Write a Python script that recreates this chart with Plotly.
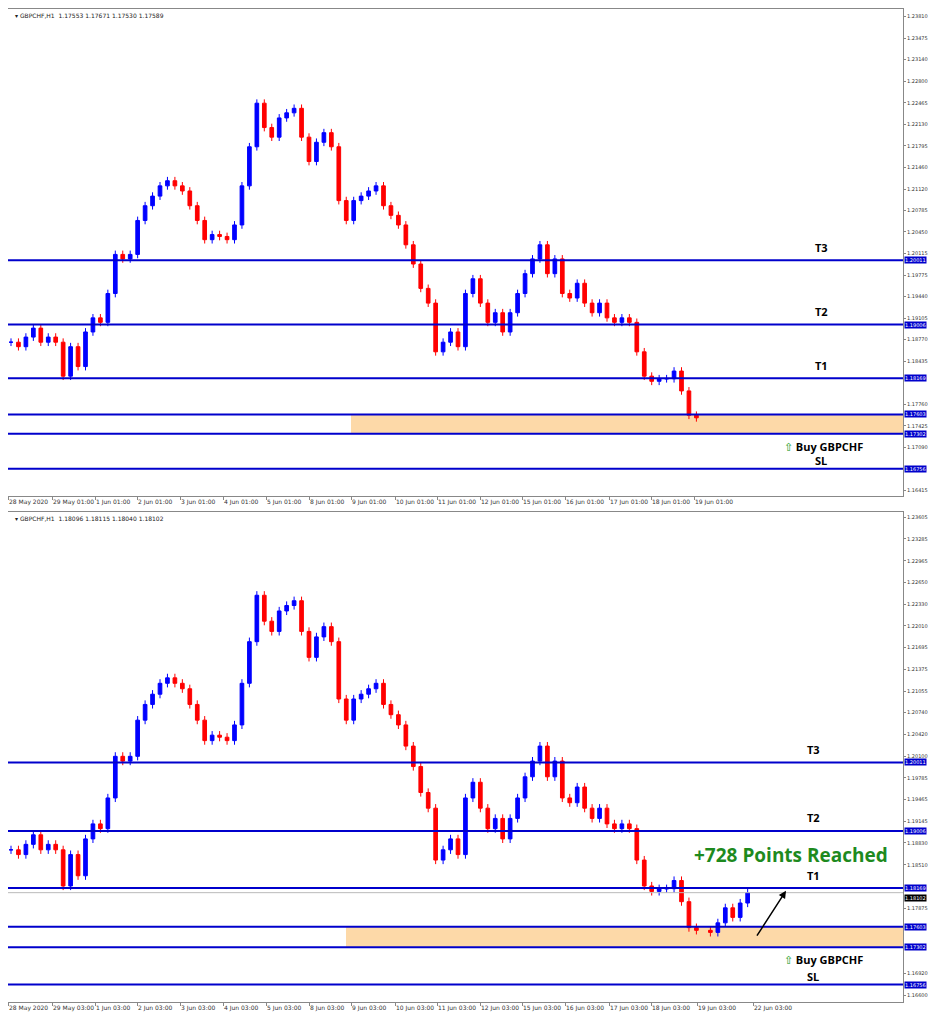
import plotly.graph_objects as go

# ---------------- DATA ----------------
closes = [1.1873, 1.1866, 1.1881, 1.1895, 1.1873, 1.1881, 1.1873, 1.1820, 1.1866, 1.1835,
          1.1889, 1.1911, 1.1904, 1.1949, 1.2010, 1.2003, 1.2010, 1.2063, 1.2086, 1.2101,
          1.2117, 1.2125, 1.2117, 1.2109, 1.2086, 1.2063, 1.2033, 1.2041, 1.2038, 1.2033,
          1.2056, 1.2117, 1.2178, 1.2246, 1.2208, 1.2193, 1.2223, 1.2231, 1.2238, 1.2193,
          1.2155, 1.2185, 1.2200, 1.2178, 1.2094, 1.2063, 1.2094, 1.2101, 1.2109, 1.2117,
          1.2086, 1.2071, 1.2056, 1.2025, 1.1995, 1.1957, 1.1934, 1.1858, 1.1873, 1.1889,
          1.1866, 1.1949, 1.1972, 1.1934, 1.1904, 1.1919, 1.1889, 1.1919, 1.1949, 1.1980,
          1.2003, 1.2025, 1.1980, 1.2003, 1.1949, 1.1942, 1.1965, 1.1934, 1.1919, 1.1934,
          1.1911, 1.1904, 1.1911, 1.1904, 1.1858, 1.1820, 1.1812, 1.1816, 1.1816, 1.1828,
          1.1797, 1.1759, 1.1755]
extra_closes = [1.1752, 1.1766, 1.1788, 1.1774, 1.1795, 1.1810]

levels = [1.20011, 1.19006, 1.18169, 1.17603, 1.17302, 1.16756]
level_names = ["T3", "T2", "T1", "", "", "SL"]

top_ticks = [1.23810, 1.23475, 1.23140, 1.22800, 1.22465, 1.22130, 1.21795, 1.21460,
             1.21120, 1.20785, 1.20450, 1.20115, 1.19775, 1.19440, 1.19105, 1.18770,
             1.18435, 1.17760, 1.17425, 1.17090, 1.16415]
bot_ticks = [1.23605, 1.23285, 1.22965, 1.22650, 1.22330, 1.22010, 1.21695, 1.21375,
             1.21055, 1.20740, 1.20420, 1.20100, 1.19785, 1.19465, 1.19145, 1.18830,
             1.18510, 1.17875, 1.16920, 1.16600]
top_dates = ["28 May 2020", "29 May 01:00", "1 Jun 01:00", "2 Jun 01:00", "3 Jun 01:00",
             "4 Jun 01:00", "5 Jun 01:00", "8 Jun 01:00", "9 Jun 01:00", "10 Jun 01:00",
             "11 Jun 01:00", "12 Jun 01:00", "15 Jun 01:00", "16 Jun 01:00", "17 Jun 01:00",
             "18 Jun 01:00", "19 Jun 01:00"]
bot_dates = ["28 May 2020", "29 May 03:00", "1 Jun 03:00", "2 Jun 03:00", "3 Jun 03:00",
             "4 Jun 03:00", "5 Jun 03:00", "8 Jun 03:00", "9 Jun 03:00", "10 Jun 03:00",
             "11 Jun 03:00", "12 Jun 03:00", "15 Jun 03:00", "16 Jun 03:00", "17 Jun 03:00",
             "18 Jun 03:00", "19 Jun 03:00", "22 Jun 03:00"]

# ---------------- BUILD ----------------
W, H = 923, 1008    # page body has an 8px margin
PX = 895.0          # plot width in px
DOM = PX / W
STEP = 7.45         # px per candle
WICK = 0.0006


def ohlc(cl, start_open):
    o, h, l = [], [], []
    prev = start_open
    for c in cl:
        o.append(prev)
        h.append(max(prev, c) + WICK)
        l.append(min(prev, c) - WICK)
        prev = c
    return o, h, l


x1 = [3 + i * STEP for i in range(len(closes))]
o1, h1, l1 = ohlc(closes, closes[0])
all_closes = closes + extra_closes
x2 = x1 + [x1[-1] + 14 + i * STEP for i in range(len(extra_closes))]
o2, h2, l2 = ohlc(all_closes, closes[0])

fig = go.Figure()
candle_style = dict(increasing=dict(line=dict(color="#0000ff", width=1), fillcolor="#0000ff"),
                    decreasing=dict(line=dict(color="#ff0000", width=1), fillcolor="#ff0000"),
                    whiskerwidth=0, showlegend=False, hoverinfo="skip")
fig.add_trace(go.Candlestick(x=x1, open=o1, high=h1, low=l1, close=closes,
                             xaxis="x", yaxis="y", **candle_style))
fig.add_trace(go.Candlestick(x=x2, open=o2, high=h2, low=l2, close=all_closes,
                             xaxis="x2", yaxis="y2", **candle_style))

top_tickpx = [0, 44, 87, 129, 172, 215, 258, 301, 343, 387, 429, 472, 514, 557, 601, 643, 686]
bot_tickpx = top_tickpx[:-1] + [689, 745]

axis_common = dict(range=[0, PX], showgrid=False, zeroline=False, showline=True,
                   linecolor="#888", mirror=True, ticks="outside", ticklen=3, tickcolor="#888",
                   ticklabelposition="outside right", tickangle=0, automargin=False,
                   tickfont=dict(size=6, family="DejaVu Sans", color="#333"),
                   rangeslider=dict(visible=False))
y_common = dict(side="right", showgrid=False, zeroline=False, showline=True, linecolor="#888",
                mirror=True, ticks="outside", ticklen=2, tickcolor="#888", automargin=False,
                tickfont=dict(size=5, family="DejaVu Sans", color="#333"), tickformat=".5f")

fig.update_layout(
    width=W, height=H, margin=dict(l=0, r=0, t=0, b=0),
    paper_bgcolor="white", plot_bgcolor="white",
    xaxis=dict(domain=[0, DOM], anchor="y", tickvals=top_tickpx, ticktext=top_dates, **axis_common),
    yaxis=dict(domain=[1 - 488 / H, 1 - 1 / H], range=[1.1633, 1.2393], tickvals=top_ticks, **y_common),
    xaxis2=dict(domain=[0, DOM], anchor="y2", tickvals=bot_tickpx, ticktext=bot_dates, **axis_common),
    yaxis2=dict(domain=[1 - 994 / H, 1 - 504 / H], range=[1.1650, 1.2368], tickvals=bot_ticks, **y_common),
)

shapes, anns = [], []
for xr, yr, rect_x0, buy_y in [("x", "y", 343, 1.1711), ("x2", "y2", 338, 1.1713)]:
    shapes.append(dict(type="rect", xref=xr, yref=yr, x0=rect_x0, x1=PX, y0=levels[4], y1=levels[3],
                       fillcolor="#fdd9a8", line=dict(width=0), layer="below"))
    for lv, name in zip(levels, level_names):
        shapes.append(dict(type="line", xref=xr, yref=yr, x0=0, x1=PX, y0=lv, y1=lv,
                           line=dict(color="#0000cc", width=2)))
        anns.append(dict(xref="paper", yref=yr, x=DOM + 0.001, y=lv, xanchor="left",
                         text=f"{lv:.5f}", showarrow=False, bgcolor="#0000cc",
                         font=dict(size=5, color="white", family="DejaVu Sans"), borderpad=0))
        if name:
            tx = 813 if xr == "x" else 805
            anns.append(dict(xref=xr, yref=yr, x=tx, y=lv, yshift=8 if name == "SL" else 13,
                             text=f"<b>{name}</b>", showarrow=False,
                             font=dict(size=11, color="black", family="Open Sans")))
    anns.append(dict(xref=xr, yref=yr, x=815, y=buy_y,
                     text="<span style='color:#1a9a1a'>⇧</span> <b>Buy GBPCHF</b>", showarrow=False,
                     font=dict(size=11, color="black", family="Open Sans")))

shapes.append(dict(type="line", xref="x2", yref="y2", x0=0, x1=PX, y0=1.18102, y1=1.18102,
                   line=dict(color="#bbbbbb", width=1)))
anns.append(dict(xref="paper", yref="y2", x=DOM + 0.001, y=1.18102, yshift=-5, xanchor="left",
                 text="1.18102", showarrow=False, bgcolor="black",
                 font=dict(size=5, color="white", family="DejaVu Sans"), borderpad=0))
anns.append(dict(xref="x2", yref="y2", x=783, y=1.1865, text="<b>+728 Points Reached</b>",
                 showarrow=False, font=dict(size=19, color="#1e8a1e", family="Open Sans")))
anns.append(dict(xref="x2", yref="y2", x=778, y=1.1813, ax=748, ay=1.1745, axref="x2", ayref="y2",
                 showarrow=True, arrowhead=2, arrowwidth=1.5, arrowcolor="black", text=""))
for yr, txt in [("y", "GBPCHF,H1  1.17553 1.17671 1.17530 1.17589"),
                ("y2", "GBPCHF,H1  1.18096 1.18115 1.18040 1.18102")]:
    anns.append(dict(xref="paper", yref=yr + " domain", x=0.005, y=0.998, xanchor="left", yanchor="top",
                     text="▾ " + txt, showarrow=False,
                     font=dict(size=6, color="#222", family="DejaVu Sans")))

fig.update_layout(shapes=shapes, annotations=anns)
fig.write_html("out.html")
